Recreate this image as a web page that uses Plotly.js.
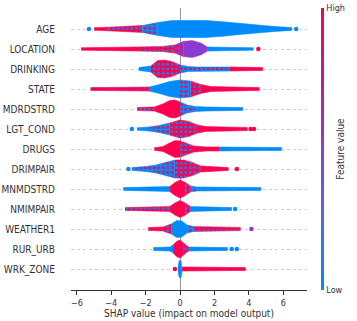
<!DOCTYPE html>
<html>
<head>
<meta charset="utf-8">
<script src="https://cdn.plot.ly/plotly-3.0.1.min.js"></script>
<style>
  html, body { margin: 0; padding: 0; background: #fff; }
  #chart { width: 357px; height: 321px; }
</style>
</head>
<body>
<div id="chart"></div>
<script>
// Features, top to bottom
const features = ["AGE", "LOCATION", "DRINKING", "STATE", "MDRDSTRD", "LGT_COND", "DRUGS",
  "DRIMPAIR", "MNMDSTRD", "NMIMPAIR", "WEATHER1", "RUR_URB", "WRK_ZONE"];

// Outline of each beeswarm row: SHAP value knots and half-thickness (in rows)
const knotX = [
  [-5.0, -4.2, -3.2, -2.2, -1.3, -0.5, 0.5, 1.5, 2.5, 3.5, 4.5, 5.5, 6.5],
  [-5.75, -4, -2.5, -1, -0.3, 0.2, 0.7, 1.2, 1.6, 2.5, 4.25],
  [-2.4, -1.7, -1.3, -0.9, -0.5, 0, 0.5, 1.0, 2.9, 4.8],
  [-5.2, -3.5, -1.8, -1.2, -0.6, 0, 0.6, 1.2, 1.8, 3, 4.6],
  [-2.5, -1.5, -1.0, -0.6, -0.3, 0, 0.4, 0.9, 1.5, 3.65],
  [-2.5, -1.8, -1.2, -0.6, 0, 0.5, 1.0, 1.5, 2.5, 3.9],
  [-1.5, -1.0, -0.6, -0.3, 0, 0.4, 0.8, 1.5, 2.3, 4, 5.9],
  [-2.8, -2.0, -1.4, -0.8, -0.3, 0.2, 0.7, 1.2, 2.0, 2.8],
  [-3.3, -1.5, -0.6, -0.3, 0, 0.3, 0.6, 1.0, 2.5, 4.7],
  [-3.2, -1.8, -0.6, -0.3, 0, 0.3, 0.6, 1.2, 3.0],
  [-1.85, -1.0, -0.5, -0.2, 0.1, 0.4, 0.8, 1.5, 3.5],
  [-1.55, -0.6, -0.4, -0.2, 0, 0.2, 0.5, 1.5, 2.75],
  [-0.12, -0.05, 0.05, 0.12, 0.3, 2.0, 3.8]
];
const knotW = [
  [0.06, 0.09, 0.12, 0.17, 0.32, 0.42, 0.43, 0.42, 0.36, 0.27, 0.18, 0.12, 0.07],
  [0.06, 0.09, 0.1, 0.13, 0.2, 0.38, 0.42, 0.3, 0.1, 0.08, 0.06],
  [0.07, 0.15, 0.42, 0.45, 0.38, 0.2, 0.12, 0.1, 0.1, 0.07],
  [0.07, 0.09, 0.1, 0.22, 0.38, 0.45, 0.4, 0.22, 0.12, 0.1, 0.07],
  [0.08, 0.1, 0.25, 0.42, 0.45, 0.35, 0.2, 0.12, 0.1, 0.07],
  [0.06, 0.1, 0.18, 0.3, 0.45, 0.38, 0.2, 0.12, 0.1, 0.08],
  [0.06, 0.12, 0.3, 0.42, 0.4, 0.28, 0.15, 0.1, 0.1, 0.09, 0.07],
  [0.07, 0.12, 0.2, 0.35, 0.45, 0.45, 0.33, 0.15, 0.1, 0.07],
  [0.07, 0.1, 0.12, 0.32, 0.45, 0.32, 0.15, 0.1, 0.1, 0.07],
  [0.07, 0.1, 0.12, 0.3, 0.42, 0.3, 0.12, 0.1, 0.07],
  [0.07, 0.1, 0.25, 0.42, 0.4, 0.2, 0.12, 0.1, 0.08],
  [0.07, 0.1, 0.2, 0.38, 0.45, 0.3, 0.1, 0.1, 0.07],
  [0.06, 0.42, 0.42, 0.1, 0.1, 0.1, 0.07]
];
// Feature-value colour between knots: r=high, b=low, p=mid, rb / br = mixed
const segStyle = [
  ["r", "rb", "rb", "br", "b", "b", "b", "b", "b", "b", "b", "b"],
  ["r", "r", "rb", "rb", "pr", "p", "p", "p", "b", "b"],
  ["b", "rb", "rb", "rb", "rb", "br", "br", "br", "r"],
  ["rb", "rb", "b", "b", "b", "br", "rb", "r", "r", "r"],
  ["rb", "r", "r", "r", "r", "br", "br", "b", "b"],
  ["b", "br", "br", "rb", "rb", "rb", "r", "r", "r"],
  ["r", "r", "r", "r", "rb", "rb", "r", "r", "b", "b"],
  ["br", "br", "br", "br", "rb", "rb", "rb", "r", "r"],
  ["b", "b", "r", "r", "r", "rb", "br", "b", "b"],
  ["rb", "rb", "r", "r", "r", "rb", "b", "b"],
  ["r", "rb", "b", "b", "b", "br", "rb", "rb"],
  ["b", "b", "r", "r", "r", "rb", "b", "b"],
  ["b", "b", "b", "r", "r", "r"]
];
// Lone points outside the main swarm
const dotX = [[-5.3, 6.75], [4.55], [], [], [], [-2.8, 4.1, 4.3], [], [-3.0, 3.3], [], [3.2], [4.15], [3.0, 3.3], [-0.3]];
const dotStyle = [["b", "b"], ["r"], [], [], [], ["b", "r", "r"], [], ["b", "r"], [], ["b"], ["p"], ["b", "b"], ["r"]];

const RED = "#ff0051", BLUE = "#008bfb", PURPLE = "#8b3bcf";
const styles = {
  r: { bg: RED }, b: { bg: BLUE }, p: { bg: PURPLE },
  rb: { bg: RED, fg: BLUE }, br: { bg: BLUE, fg: RED }, pr: { bg: PURPLE, fg: RED }
};
const FONT = "DejaVu Sans Condensed, DejaVu Sans, sans-serif";

const traces = [];
features.forEach(function(name, row) {
  const xs = knotX[row], ws = knotW[row], ss = segStyle[row];
  let start = 0;
  for (let i = 1; i <= ss.length; i++) {
    if (i === ss.length || ss[i] !== ss[start]) {
      const px = [], py = [];
      for (let k = start; k <= i; k++) { px.push(xs[k]); py.push(row - ws[k]); }
      for (let k = i; k >= start; k--) { px.push(xs[k]); py.push(row + ws[k]); }
      const st = styles[ss[start]];
      const tr = {
        x: px, y: py, mode: "lines", fill: "toself",
        fillcolor: st.bg,
        line: { color: st.bg, width: 0.6 },
        hoverinfo: "skip", showlegend: false
      };
      if (st.fg) {
        tr.fillpattern = { shape: ".", bgcolor: st.bg, fgcolor: st.fg, size: 4.5, solidity: 0.3 };
      }
      traces.push(tr);
      start = i;
    }
  }
  if (dotX[row].length) {
    traces.push({
      x: dotX[row], y: dotX[row].map(function() { return row; }),
      mode: "markers",
      marker: { size: 4.5, color: dotStyle[row].map(function(s) { return styles[s].bg; }) },
      hoverinfo: "skip", showlegend: false
    });
  }
});

// Colour bar only
traces.push({
  x: [0], y: [-50], mode: "markers", hoverinfo: "skip", showlegend: false,
  marker: {
    color: [0], cmin: 0, cmax: 1,
    colorscale: [[0, BLUE], [0.25, "#4a6cf0"], [0.5, "#8a3fd2"], [0.75, "#c8159d"], [1, RED]],
    showscale: true,
    colorbar: {
      thickness: 3, len: 1, lenmode: "fraction", y: 0.5, yanchor: "middle",
      x: 1.06, xanchor: "left", xpad: 0, ypad: 0, outlinewidth: 0,
      tickvals: [0, 1], ticktext: ["Low", "High"], ticks: "",
      tickfont: { family: FONT, size: 9, color: "#333" },
      title: { text: "Feature value", side: "right", font: { family: FONT, size: 10, color: "#333" } }
    }
  }
});

const layout = {
  width: 357, height: 321,
  margin: { l: 71, r: 50, t: 8, b: 31 },
  paper_bgcolor: "#fff", plot_bgcolor: "#fff",
  xaxis: {
    range: [-6.34, 7.38],
    tickvals: [-6, -4, -2, 0, 2, 4, 6],
    ticks: "outside", ticklen: 4, tickcolor: "#333",
    showline: true, linecolor: "#333", linewidth: 1,
    showgrid: false,
    zeroline: true, zerolinecolor: "#999", zerolinewidth: 1,
    tickfont: { family: FONT, size: 9, color: "#333" },
    title: { text: "SHAP value (impact on model output)", standoff: 3,
      font: { family: FONT, size: 10, color: "#333" } }
  },
  yaxis: {
    range: [13.05, -1.05],
    tickvals: features.map(function(f, i) { return i; }),
    ticktext: features,
    ticks: "", ticklabelstandoff: 15,
    showgrid: true, gridcolor: "#ccc", griddash: "dot", gridwidth: 1,
    zeroline: false, showline: false,
    tickfont: { family: FONT, size: 10, color: "#333" }
  }
};

Plotly.newPlot("chart", traces, layout, { displayModeBar: false, staticPlot: true });
</script>
</body>
</html>
